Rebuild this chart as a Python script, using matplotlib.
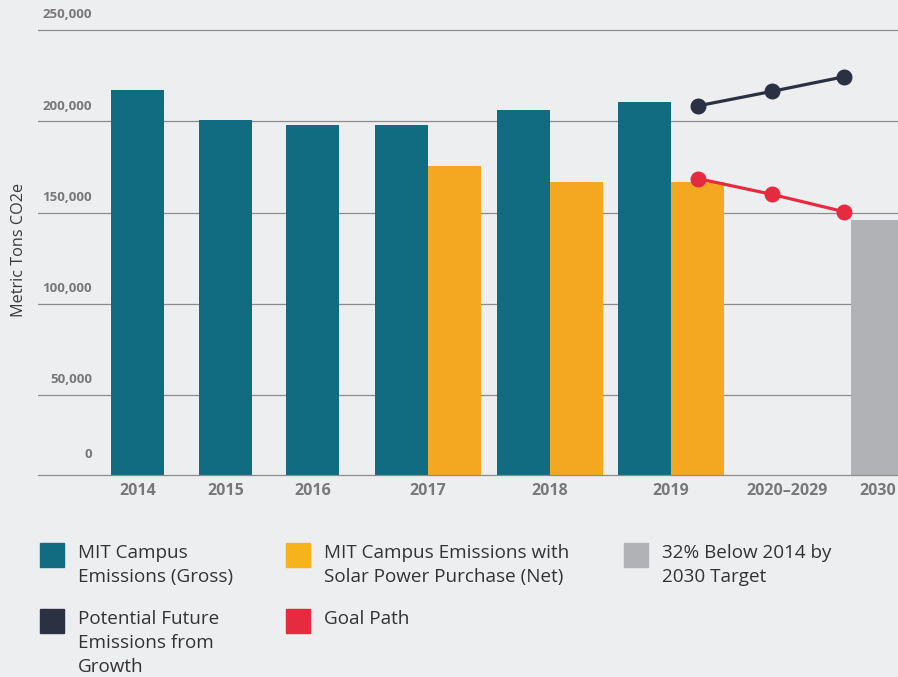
import matplotlib
matplotlib.use('Agg')
import matplotlib.pyplot as plt
from matplotlib.patches import Rectangle
from matplotlib.transforms import offset_copy

# data
years = ['2014', '2015', '2016', '2017', '2018', '2019']
gross = [217000, 201000, 198000, 198000, 206000, 210500]
net_years = ['2017', '2018', '2019']
net = [175500, 166800, 166800]
future_labels = ['2020\u20132029', '2030']
growth = [208500, 216500, 224500]
goal = [168700, 160000, 150500]
target_2030 = 146000
yticks = [0, 50000, 100000, 150000, 200000, 250000]

# colours
BG = '#edeef0'
TEAL = '#116c82'
ORANGE = '#f4a720'
GREY = '#b1b2b5'
NAVY = '#2b3142'
RED = '#e62b40'
GRID = '#8c8c8e'
LABEL = '#78787a'
TEXT = '#333333'

plt.rcParams['font.family'] = ['Open Sans', 'DejaVu Sans']

W, H = 898, 677
fig = plt.figure(figsize=(W / 100, H / 100), dpi=100, facecolor=BG)
# x axis works in pixel units, so axes spans 38..898 px
ax = fig.add_axes([38 / W, 1 - 475 / H, 1 - 38 / W, 475 / H])
ax.set_facecolor(BG)
ax.set_xlim(38, 898)
ax.set_ylim(6100, 266600)

# layout (slot centres)
bw = 53
gross_x = [137.5, 225.5, 312.5, 401.5, 523.5, 644.5]
net_x = [gross_x[years.index(y)] + bw for y in net_years]
line_x = [697.5, 772, 844]
target_x = 877.5
tick_x = [137.5, 225.5, 312.5, 428, 549.5, 671, 787, 878]

for v in yticks[1:]:
    ax.axhline(v, color=GRID, lw=0.9, zorder=0)

ax.bar(gross_x, gross, width=bw, color=TEAL, zorder=2)
ax.bar(net_x, net, width=bw, color=ORANGE, zorder=2)
ax.bar([target_x], [target_2030], width=bw, color=GREY, zorder=2)

ax.plot(line_x, growth, color=NAVY, lw=2.3, marker='o', ms=10.5, zorder=3)
ax.plot(line_x, goal, color=RED, lw=2.3, marker='o', ms=10.5, zorder=3)

for s in ['top', 'right', 'left']:
    ax.spines[s].set_visible(False)
ax.spines['bottom'].set_color(GRID)
ax.spines['bottom'].set_linewidth(0.9)
ax.set_yticks([])
ax.set_xticks(tick_x)
ax.set_xticklabels(years + future_labels, fontsize=11.5, fontweight='bold', color=LABEL)
ax.tick_params(axis='x', length=0, pad=6)

# y labels sit above their grid lines
for v in yticks:
    lab = f'{v:,}'
    yy = v if v > 0 else ax.get_ylim()[0]
    off = 11 if v > 0 else 14.5
    tr = offset_copy(ax.transData, fig=fig, y=off, units='points')
    ax.text(92, yy, lab, transform=tr, ha='right', va='center', fontsize=9.5,
            fontweight='bold', color=LABEL)

fig.text(19 / W, 1 - 250 / H, 'Metric Tons CO2e', rotation=90, ha='center', va='center',
         fontsize=11.7, color='#3a3a3a')

# legend
legend_items = [
    (40, 543, TEAL, 'MIT Campus\nEmissions (Gross)'),
    (286, 543, '#f6b31b', 'MIT Campus Emissions with\nSolar Power Purchase (Net)'),
    (624, 543, GREY, '32% Below 2014 by\n2030 Target'),
    (40, 609, NAVY, 'Potential Future\nEmissions from\nGrowth'),
    (286, 609, RED, 'Goal Path'),
]
for x0, y0, c, txt in legend_items:
    fig.patches.append(Rectangle((x0 / W, 1 - (y0 + 24) / H), 24 / W, 24 / H,
                                 transform=fig.transFigure, color=c))
    fig.text((x0 + 38) / W, 1 - (y0 + 1) / H, txt, ha='left', va='top', fontsize=13.6,
             color=TEXT, linespacing=1.42)

fig.savefig('out.png', dpi=100, facecolor=BG)
